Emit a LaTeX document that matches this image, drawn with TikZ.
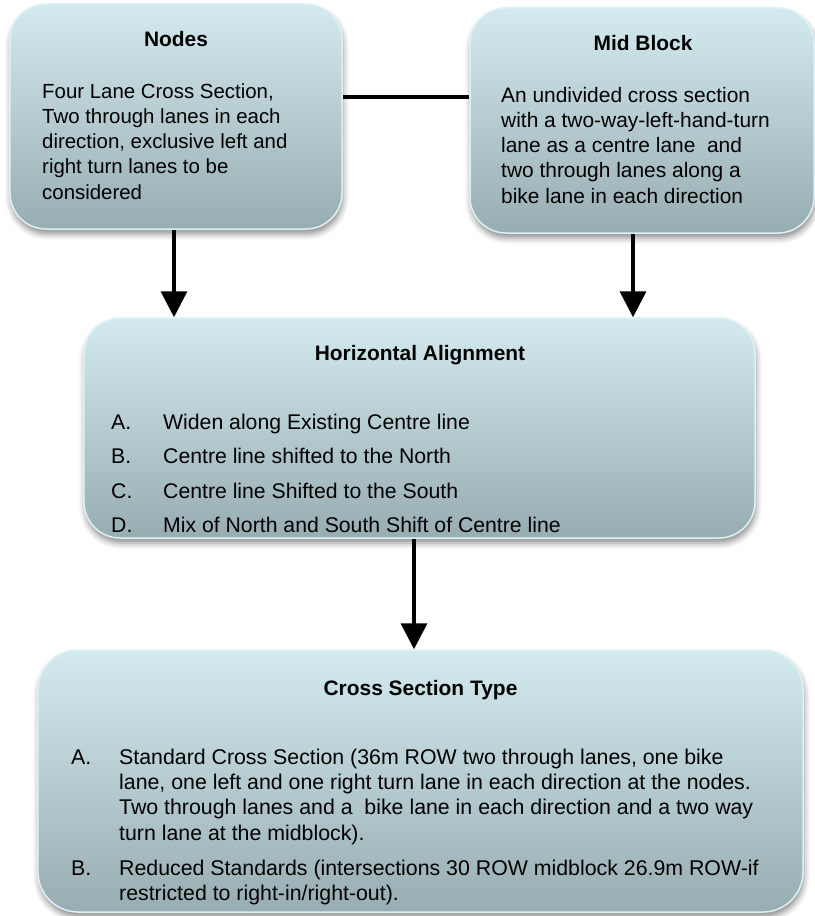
\documentclass[tikz,border=0pt]{standalone}
\usepackage{fontspec}
\setmainfont{Liberation Sans}
\usetikzlibrary{arrows.meta,shadows.blur,calc}
\definecolor{boxtop}{RGB}{211,234,238}
\definecolor{boxbot}{RGB}{152,173,177}
\definecolor{boxrim}{RGB}{222,241,244}
\tikzset{
  panel/.style={rounded corners=36bp, top color=boxtop, bottom color=boxbot,
    draw=boxrim, line width=1.5bp,
    blur shadow={shadow xshift=1bp, shadow yshift=-5bp,
      shadow blur radius=6bp, shadow opacity=45}},
  headtext/.style={font=\bfseries\fontsize{21}{25}\selectfont, inner sep=0pt},
  bodytext/.style={font=\fontsize{21}{25.3}\selectfont, align=left, inner sep=0pt},
  link/.style={line width=3.5bp, black},
  flow/.style={link, -{Triangle[width=26bp,length=26bp]}}
}
\begin{document}
\begin{tikzpicture}[x=1bp, y=-1bp]
\useasboundingbox (0,0) rectangle (815,916);

% panels
\node[panel, minimum width=332bp, minimum height=225bp] (nodes) at (176,116.5) {};
\node[panel, minimum width=344bp, minimum height=225bp] (mid) at (642,120.5) {};
\node[panel, minimum width=671bp, minimum height=220bp] (ha) at (419.5,428) {};
\node[panel, rounded corners=40bp, minimum width=765bp, minimum height=262bp] (cst) at (420.5,781) {};

% connectors
\draw[link] ($(nodes.east)+(0,-19.5)$) coordinate (lk) -- (lk -| mid.west);
\draw[flow] ($(nodes.south)+(-2,0)$) coordinate (a1) -- (a1 |- ha.north);
\draw[flow] ($(mid.south)+(-9,0)$) coordinate (a2) -- (a2 |- ha.north);
\draw[flow] ($(ha.south)+(-5.5,0)$) coordinate (a3) -- (a3 |- cst.north);

% Nodes panel text (multi-line nodes sit on the baseline of their last line)
\node[headtext, anchor=base] (nodesT) at (176,46) {Nodes};
\node[bodytext, font=\fontsize{20.5}{25.25}\selectfont, anchor=base west] (nodesB) at (42,199)
  {Four Lane Cross Section,\\Two through lanes in each\\direction, exclusive left and\\right turn lanes to be\\considered};

% Mid Block panel text
\node[headtext, anchor=base] (midT) at (643,50) {Mid Block};
\node[bodytext, font=\fontsize{21}{25.25}\selectfont, anchor=base west] (midB) at (501,203)
  {An undivided cross section\\with a two-way-left-hand-turn\\lane as a centre lane\ \ and\\two through lanes along a\\bike lane in each direction};

% Horizontal Alignment panel text
\node[headtext, anchor=base] (haT) at (420,360.5) {Horizontal Alignment};
\node[bodytext, font=\fontsize{21.3}{25.3}\selectfont, anchor=base west] (haL) at (111,532.5)
  {A.\\[9.1bp]B.\\[9.1bp]C.\\[9.1bp]D.};
\node[bodytext, font=\fontsize{21.3}{25.3}\selectfont, anchor=base west] (haB) at (163,532.5)
  {Widen along Existing Centre line\\[9.1bp]Centre line shifted to the North\\[9.1bp]Centre line Shifted to the South\\[9.1bp]Mix of North and South Shift of Centre line};

% Cross Section Type panel text
\node[headtext, anchor=base] (cstT) at (420.5,695) {Cross Section Type};
\node[bodytext, font=\fontsize{21.4}{25.3}\selectfont, anchor=base west] (cstLA) at (71,764) {A.};
\node[bodytext, font=\fontsize{21.4}{25.3}\selectfont, anchor=base west] (cstLB) at (71,875) {B.};
\node[bodytext, font=\fontsize{21.4}{25.3}\selectfont, anchor=base west] (cstB) at (119,900.3)
  {Standard Cross Section (36m ROW two through lanes, one bike\\lane, one left and one right turn lane in each direction at the nodes.\\Two through lanes and a\ \ bike lane in each direction and a two way\\turn lane at the midblock).\\[9.8bp]Reduced Standards (intersections 30 ROW midblock 26.9m ROW-if\\restricted to right-in/right-out).};
\end{tikzpicture}
\end{document}
